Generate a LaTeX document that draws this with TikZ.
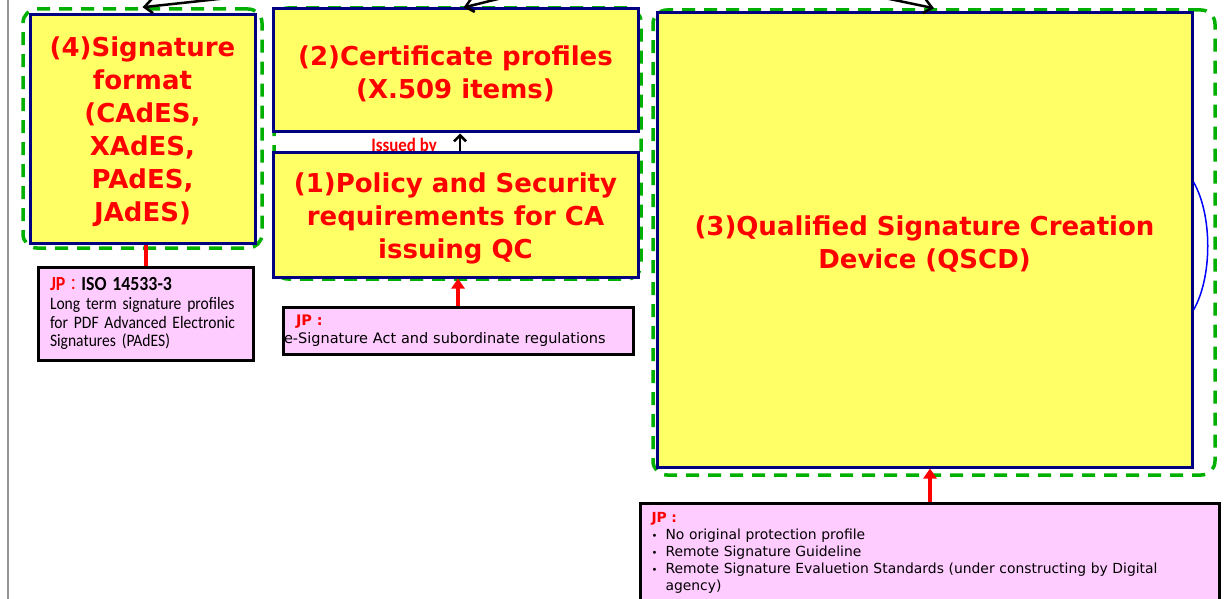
\documentclass[tikz,border=0pt]{standalone}
\usepackage{fontspec}
\setmainfont{DejaVu Sans}
\newfontfamily\notefont[FakeStretch=0.89]{Carlito}
\newfontfamily\cjkfont{Noto Sans CJK JP}
\usetikzlibrary{arrows.meta}

\definecolor{boxyellow}{RGB}{255,255,102}
\definecolor{boxnavy}{RGB}{0,0,128}
\definecolor{grpgreen}{RGB}{0,176,0}
\definecolor{notepink}{RGB}{255,204,255}
\definecolor{jpred}{RGB}{255,0,0}
\definecolor{edgegrey}{RGB}{150,150,150}

\def\topstrut{\rule{0pt}{26pt}}
\def\dotitem{\makebox[14pt][l]{\fontsize{10}{10}\selectfont\textbullet}}

\tikzset{
  item/.style={draw=boxnavy, line width=3pt, fill=boxyellow, inner sep=0pt, align=center,
    text=jpred, font=\bfseries\fontsize{26}{33}\selectfont},
  grp/.style={draw=grpgreen, line width=3.5pt, dash pattern=on 13pt off 9pt, rounded corners=14pt, inner sep=0pt},
  note/.style={draw=black, line width=3pt, fill=notepink, inner xsep=12pt, inner ysep=0pt, align=left},
  flow/.style={draw=black, line width=2.5pt, -{Straight Barb[length=8pt,width=14pt]}},
  req/.style={draw=jpred, line width=4pt, -{Triangle[length=10pt,width=13pt]}},
}

\begin{document}
\begin{tikzpicture}[x=1pt, y=-1pt]
			%%%%% START %%%%%
			\useasboundingbox (0,0) rectangle (1232,599);
			\clip (0,0) rectangle (1232,599);
			\fill[white] (0,0) rectangle (1232,599);
			
			\draw[edgegrey, line width=1.5pt] (8,0) -- (8,599);
			
			% dashed groups
			\node[grp, minimum width=239pt, minimum height=239pt] (grp4) at (142.5,128.5) {};
			\node[grp, minimum width=367pt, minimum height=271pt] (grp12) at (457.5,143.5) {};
			\node[grp, minimum width=562pt, minimum height=465pt] (grp3) at (934,242.5) {};
			
			\node[font=\notefont\bfseries\fontsize{19}{19}\selectfont, text=jpred, anchor=base, inner sep=0pt] (issued) at (404,152) {Issued by};
			
			% yellow boxes
			\node[item, minimum width=225pt, minimum height=228pt] (sigfmt) at (142.5,129) {\topstrut(4)Signature\\format\\(CAdES,\\XAdES,\\PAdES,\\JAdES)};
			\node[item, minimum width=365pt, minimum height=123pt] (certprof) at (455.5,70.5) {\topstrut(2)Certificate profiles\\(X.509 items)};
			\node[item, minimum width=365pt, minimum height=124pt] (policy) at (455.5,215) {\topstrut(1)Policy and Security\\requirements for CA\\issuing QC};
			\node[item, minimum width=535pt, minimum height=454pt] (qscd) at (924.5,240) {\rule{0pt}{28pt}(3)Qualified Signature Creation\\Device (QSCD)};
			
			\draw[blue, line width=1.5pt] ([yshift=58pt]qscd.east) .. controls +(19,33) and +(19,-33) .. ([yshift=-70pt]qscd.east);
			
			% JP notes
			\node[note, text width=191pt, minimum height=93pt, font=\notefont\fontsize{17.5}{18.5}\selectfont] (isonote) at (145.5,313.5)
			  {{\bfseries\fontsize{20}{20}\selectfont\textcolor{jpred}{JP{\cjkfont\mdseries\fontsize{16}{16}\selectfont ：}}ISO 14533-3}\\[1pt]
			   Long term signature profiles\\for PDF Advanced Electronic\\Signatures (PAdES)};
			\node[note, inner xsep=1pt, text width=348pt, minimum height=47pt, font=\fontsize{14.5}{17.5}\selectfont] (actnote) at (458,330.5)
			  {\hspace*{12pt}\textcolor{jpred}{\bfseries JP :}\\e-Signature Act and subordinate regulations};
			\node[note, anchor=north west, inner xsep=11pt, inner ysep=9pt, text width=557pt, font=\fontsize{13.9}{17}\selectfont] (qscdnote) at (639,502)
			  {\textcolor{jpred}{\bfseries JP :}\\
			   \dotitem No original protection profile\\
			   \dotitem Remote Signature Guideline\\
			   \dotitem Remote Signature Evaluetion Standards (under constructing by Digital\\
			   \hspace*{14pt}agency)};
			
			% connectors
			\coordinate (feed4) at (228,-2);
			\coordinate (feed2) at (506,-3);
			\coordinate (feed3) at (880,-3);
			\draw[flow] (feed4) -- (grp4.north);
			\draw[flow] (feed2) -- ([xshift=8pt]certprof.north);
			\draw[flow] (feed3) -- (grp3.north);
			\draw[flow, -{Straight Barb[length=6pt,width=12pt]}] ([xshift=4.5pt]policy.north) -- ([xshift=4.5pt]certprof.south);
			
			\draw[req] (actnote.north) -- (actnote.north |- policy.south);
			\draw[req] (qscdnote.north) -- (qscdnote.north |- qscd.south);
			\draw[jpred, line width=4pt] (isonote.north) -- (isonote.north |- sigfmt.south);
			%%%%% END %%%%%
\end{tikzpicture}
\end{document}
